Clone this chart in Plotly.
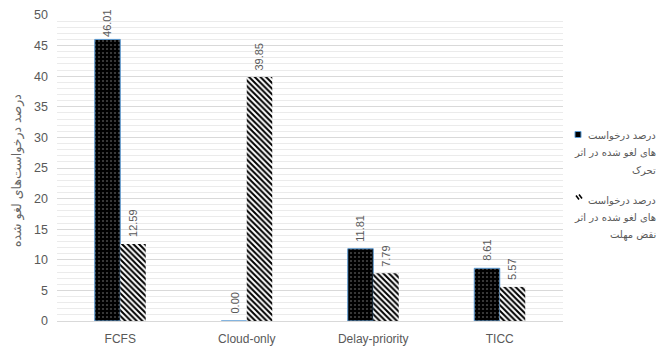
import plotly.graph_objects as go

# Cancelled-request percentages per scheduling policy
categories = ["FCFS", "Cloud-only", "Delay-priority", "TICC"]
mobility_cancel = [46.01, 0.00, 11.81, 8.61]
deadline_cancel = [12.59, 39.85, 7.79, 5.57]
y_ticks = [0, 5, 10, 15, 20, 25, 30, 35, 40, 45, 50]

series_names = [
    "درصد درخواست‌های لغو شده در اثر تحرک",
    "درصد درخواست‌های لغو شده در اثر نقض مهلت",
]
legend_lines = [
    ["درصد درخواست", "های لغو شده در اثر", "تحرک"],
    ["درصد درخواست", "های لغو شده در اثر", "نقض مهلت"],
]
y_title = "درصد درخواست‌های لغو شده"

W, H = 660, 349
ML, MR, MT, MB = 57, 97, 15, 28
PW, PH = W - ML - MR, H - MT - MB
Y_MAX = 50

GRAY = "#595959"
FONT = "Liberation Sans, Arial, sans-serif"
FA_FONT = "DejaVu Sans, sans-serif"

BARGAP = 0.597
bar_w = (1 - BARGAP) / 2

fig = go.Figure()
fig.add_trace(go.Bar(
    x=categories, y=mobility_cancel, name=series_names[0], showlegend=False,
    marker=dict(
        color="black",
        line=dict(color="#5b9bd5", width=1),
        pattern=dict(shape=".", fillmode="replace", bgcolor="black",
                     fgcolor="#444444", size=4, solidity=0.22),
    ),
))
fig.add_trace(go.Bar(
    x=categories, y=deadline_cancel, name=series_names[1], showlegend=False,
    marker=dict(
        color="white",
        line=dict(color="white", width=0),
        pattern=dict(shape="\\", fillmode="replace", bgcolor="white",
                     fgcolor="black", size=4, solidity=0.5),
    ),
))


def px_x(px):
    return (px - ML) / PW


def px_y(py):
    return (MT + PH - py) / PH


annotations = []
# Rotated value labels above each bar
for s, vals in enumerate([mobility_cancel, deadline_cancel]):
    offset = (-0.5 + s) * bar_w
    for i, v in enumerate(vals):
        label = f"{v:.2f}"
        top_px = MT + PH - v / Y_MAX * PH
        est_len = 5.6 * len(label)
        shift = max(0, min(5, top_px - 10 - est_len - 2))
        annotations.append(dict(
            x=i + offset, y=v, xref="x", yref="y", text=label,
            textangle=-90, showarrow=False, xanchor="center", yanchor="bottom",
            yshift=shift, font=dict(family=FONT, size=11, color=GRAY),
        ))

# Legend text, right-aligned lines
line_rows = [[135, 152.5, 170], [200, 217.5, 235]]
for lines, rows in zip(legend_lines, line_rows):
    for txt, py in zip(lines, rows):
        annotations.append(dict(
            x=px_x(658), y=px_y(py), xref="paper", yref="paper", text=txt,
            showarrow=False, xanchor="right", yanchor="middle",
            font=dict(family=FA_FONT, size=10, color=GRAY),
        ))

# Axis title
annotations.append(dict(
    x=px_x(17), y=px_y(171), xref="paper", yref="paper", text=y_title,
    textangle=-90, showarrow=False, xanchor="center", yanchor="middle",
    font=dict(family=FA_FONT, size=12.5, color="#666666"),
))

shapes = [
    # legend key: solid bars
    dict(type="rect", xref="paper", yref="paper",
         x0=px_x(575), x1=px_x(581), y0=px_y(137.5), y1=px_y(131.5),
         fillcolor="black", line=dict(color="#5b9bd5", width=1)),
    # legend key: hatched bars
    dict(type="line", xref="paper", yref="paper",
         x0=px_x(576), y0=px_y(195.5), x1=px_x(579), y1=px_y(199.5),
         line=dict(color="black", width=1.6)),
    dict(type="line", xref="paper", yref="paper",
         x0=px_x(579), y0=px_y(194.5), x1=px_x(582), y1=px_y(198.5),
         line=dict(color="black", width=1.6)),
]

fig.update_layout(
    width=W, height=H,
    margin=dict(l=ML, r=MR, t=MT, b=MB, pad=0, autoexpand=False),
    paper_bgcolor="white", plot_bgcolor="white",
    barmode="group", bargap=BARGAP, bargroupgap=0,
    annotations=annotations, shapes=shapes,
    font=dict(family=FONT, size=11, color=GRAY),
)
fig.update_xaxes(
    showline=True, linecolor="#d9d9d9", linewidth=1, ticks="",
    tickfont=dict(family=FONT, size=12, color=GRAY),
    ticklabelstandoff=7, showgrid=False, zeroline=False, automargin=False,
)
fig.update_yaxes(
    range=[0, Y_MAX], tickvals=y_ticks, ticks="",
    tickfont=dict(family=FONT, size=12.5, color=GRAY),
    ticklabelstandoff=8, automargin=False,
    showgrid=True, gridcolor="#d9d9d9", gridwidth=1, zeroline=False,
    showline=False,
    minor=dict(dtick=1, showgrid=True, gridcolor="#ebebeb", gridwidth=1),
)

fig.write_html("out.html")
